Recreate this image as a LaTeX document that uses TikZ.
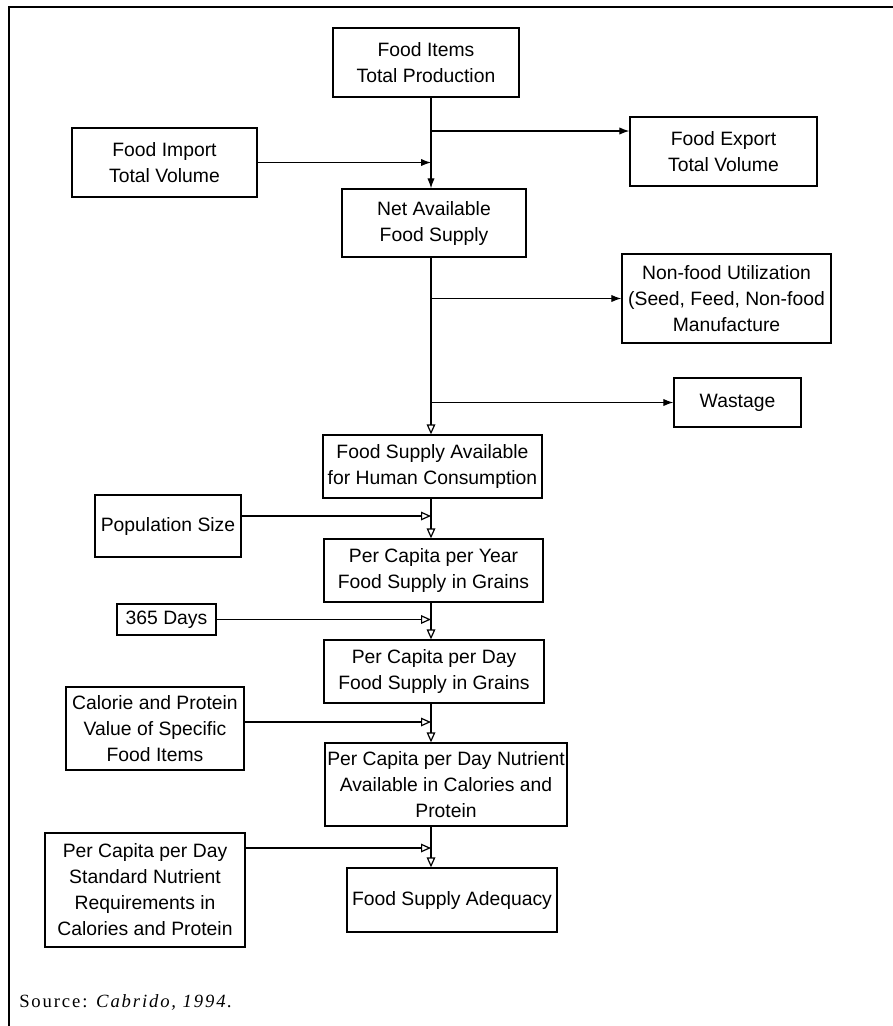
\documentclass[tikz,border=0pt]{standalone}
\usepackage{fontspec}
\setmainfont{Liberation Serif}
\setsansfont{Liberation Sans}
\usetikzlibrary{arrows.meta}

\begin{document}
\begin{tikzpicture}[x=0.75pt,y=-0.75pt,
  box/.style={draw,line width=1pt,align=center,inner sep=1pt,
    font=\sffamily\fontsize{14.5}{19.5}\selectfont},
  fullhead/.style={line width=0.9pt,-{Latex[length=7.5pt,width=5.5pt]}},
  openhead/.style={line width=0.9pt,-{Triangle[open,length=7.5pt,width=6.5pt]}}]
\useasboundingbox (0,0) rectangle (893,1026);
\draw[line width=0.9pt] (893,7) -- (9,7) -- (9,1026);

% boxes
\node[box,minimum width=139.5pt,minimum height=51.75pt] (prod) at (426,62.5) {Food Items\\Total Production};
\node[box,minimum width=138.75pt,minimum height=51.75pt] (import) at (164.5,162.5) {Food Import\\Total Volume};
\node[box,minimum width=140.25pt,minimum height=51.75pt] (export) at (723.5,151.5) {Food Export\\Total Volume};
\node[box,minimum width=138pt,minimum height=51pt] (net) at (434,223) {Net Available\\Food Supply};
\node[box,minimum width=156.75pt,minimum height=66.75pt] (nonfood) at (726.5,298.5) {Non-food Utilization\\(Seed, Feed, Non-food\\Manufacture};
\node[box,minimum width=95.25pt,minimum height=36.75pt] (waste) at (737.5,402.5) {Wastage};
\node[box,minimum width=164.25pt,minimum height=47.25pt] (avail) at (432.5,466.5) {Food Supply Available\\for Human Consumption};
\node[box,minimum width=109.5pt,minimum height=46.5pt] (pop) at (168,526) {Population Size};
\node[box,minimum width=164.25pt,minimum height=47.25pt] (year) at (433.5,570.5) {Per Capita per Year\\Food Supply in Grains};
\node[box,minimum width=74.25pt,minimum height=23.25pt] (days) at (166.5,619.5) {365 Days};
\node[box,minimum width=165pt,minimum height=47.25pt] (day) at (434,671.5) {Per Capita per Day\\Food Supply in Grains};
\node[box,minimum width=133.5pt,minimum height=62.25pt] (cal) at (155,728.5) {Calorie and Protein\\Value of Specific\\Food Items};
\node[box,minimum width=181.5pt,minimum height=62.25pt] (nutr) at (446,784.5) {Per Capita per Day Nutrient\\Available in Calories and\\Protein};
\node[box,minimum width=150pt,minimum height=85.5pt] (std) at (145,890) {Per Capita per Day\\Standard Nutrient\\Requirements in\\Calories and Protein};
\node[box,minimum width=157.5pt,minimum height=48pt] (adeq) at (452,900) {Food Supply Adequacy};

% main line and branches
\coordinate (spine) at (431,0);
\coordinate (jexp) at (431,131);
\coordinate (jpop) at (431,516);
\coordinate (jcal) at (431,722);
\coordinate (jstd) at (431,848);

\draw[fullhead] (prod.south -| spine) -- (net.north -| spine);
\draw[fullhead] (import.east) -- (import.east -| spine);
\draw[fullhead] (jexp) -- (jexp -| export.west);
\draw[openhead] (net.south -| spine) -- (avail.north -| spine);
\draw[fullhead] (nonfood.west -| spine) -- (nonfood.west);
\draw[fullhead] (waste.west -| spine) -- (waste.west);
\draw[openhead] (avail.south -| spine) -- (year.north -| spine);
\draw[openhead] (jpop -| pop.east) -- (jpop);
\draw[openhead] (year.south -| spine) -- (day.north -| spine);
\draw[openhead] (days.east) -- (days.east -| spine);
\draw[openhead] (day.south -| spine) -- (nutr.north -| spine);
\draw[openhead] (jcal -| cal.east) -- (jcal);
\draw[openhead] (nutr.south -| spine) -- (adeq.north -| spine);
\draw[openhead] (jstd -| std.east) -- (jstd);

\node[anchor=base west,inner sep=0pt,font=\fontsize{14}{16}\selectfont\addfontfeature{LetterSpace=10}] (src) at (19,1007) {Source: \textit{Cabrido, 1994.}};
\end{tikzpicture}
\end{document}
